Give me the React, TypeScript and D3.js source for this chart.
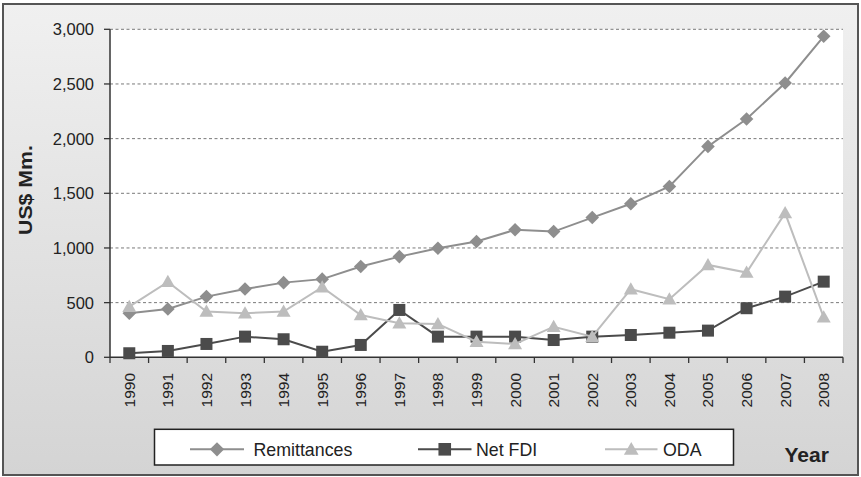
import React from "react";
import * as d3 from "d3";

const years = ["1990","1991","1992","1993","1994","1995","1996","1997","1998","1999","2000","2001","2002","2003","2004","2005","2006","2007","2008"];
const remittances = [403,442,555,625,683,715,830,921,998,1059,1166,1150,1278,1404,1562,1929,2179,2509,2936];
const netFDI = [37,58,122,189,165,51,113,433,189,189,189,158,189,204,225,244,449,555,692];
const oda = [463,690,418,403,418,641,387,311,305,143,122,280,189,623,531,845,775,1319,366];
const yTicks = [0,500,1000,1500,2000,2500,3000];

const W = 861, H = 477;
const FONT = "'Liberation Sans', Arial, Helvetica, sans-serif";

type Shape = "diamond" | "square" | "triangle";
const series: { name: string; values: number[]; color: string; shape: Shape }[] = [
  { name: "Remittances", values: remittances, color: "#8e8e8e", shape: "diamond" },
  { name: "Net FDI", values: netFDI, color: "#4b4b4b", shape: "square" },
  { name: "ODA", values: oda, color: "#bdbdbd", shape: "triangle" },
];

function Marker({ shape, x, y, color, s = 1 }: { shape: Shape; x: number; y: number; color: string; s?: number }) {
  if (shape === "diamond") {
    const r = 6.8 * s;
    return <path d={`M${x},${y - r}L${x + r},${y}L${x},${y + r}L${x - r},${y}Z`} fill={color} />;
  }
  if (shape === "square") {
    const h = 6 * s;
    return <rect x={x - h} y={y - h} width={2 * h} height={2 * h} fill={color} />;
  }
  const hw = 7 * s, ht = 7 * s;
  return <path d={`M${x},${y - ht}L${x + hw},${y + ht * 0.75}L${x - hw},${y + ht * 0.75}Z`} fill={color} />;
}

export default function App() {
  const x = d3.scaleBand<string>().domain(years).range([110, 843]).padding(0);
  const y = d3.scaleLinear().domain([0, 3000]).range([357.3, 29.3]);
  const cx = (yr: string) => (x(yr) as number) + x.bandwidth() / 2;
  const line = d3.line<number>().x((_, i) => cx(years[i])).y((v) => y(v));
  const boundaries = [...years.map((yr) => x(yr) as number), 843];

  const legendItems = [
    { lx1: 190, lx2: 244, tx: 253.5 },
    { lx1: 418, lx2: 471.5, tx: 476 },
    { lx1: 605, lx2: 657.5, tx: 663 },
  ];

  return (
    <svg width={W} height={H} style={{ position: "fixed", left: 0, top: 0, display: "block" }} fontFamily={FONT}>
      <defs>
        <linearGradient id="bg" x1="0" y1="0" x2="0" y2="1">
          <stop offset="0" stopColor="#f0f0f0" />
          <stop offset="1" stopColor="#d4d4d4" />
        </linearGradient>
      </defs>
      <rect x={0} y={0} width={W} height={H} fill="#ffffff" />
      <rect x={3} y={4} width={855} height={471} fill="url(#bg)" stroke="#555" strokeWidth={2} />
      <rect x={110} y={29.3} width={733} height={328} fill="#ffffff" />

      {yTicks.filter((t) => t > 0).map((t) => (
        <line key={"g" + t} x1={110} x2={843} y1={y(t)} y2={y(t)} stroke="#7a7a7a" strokeWidth={1} strokeDasharray="3,2.5" />
      ))}

      {/* y axis */}
      <line x1={110} x2={110} y1={29.3} y2={357.3} stroke="#333" strokeWidth={1.5} />
      {yTicks.map((t) => (
        <g key={"y" + t}>
          <line x1={104} x2={110} y1={y(t)} y2={y(t)} stroke="#333" strokeWidth={1.3} />
          <text x={94} y={y(t)} dy="0.36em" textAnchor="end" fontSize={16.5} fill="#222">
            {d3.format(",")(t)}
          </text>
        </g>
      ))}

      {/* x axis */}
      <line x1={110} x2={843} y1={357.3} y2={357.3} stroke="#333" strokeWidth={1.5} />
      {boundaries.map((b, i) => (
        <line key={"xt" + i} x1={b} x2={b} y1={357.3} y2={363} stroke="#333" strokeWidth={1.3} />
      ))}
      {years.map((yr) => (
        <text key={"xl" + yr} transform={`translate(${cx(yr) + 5.5},${373}) rotate(-90)`} textAnchor="end" fontSize={15.5} fill="#222">
          {yr}
        </text>
      ))}

      <text transform="translate(32,190) rotate(-90)" textAnchor="middle" fontSize={19} fontWeight="bold" fill="#222"
        textLength={90} lengthAdjust="spacingAndGlyphs">
        US$ Mm.
      </text>

      {series.map((s) => (
        <g key={s.name}>
          <path d={line(s.values) as string} fill="none" stroke={s.color} strokeWidth={2} />
          {s.values.map((v, i) => (
            <Marker key={i} shape={s.shape} x={cx(years[i])} y={y(v)} color={s.color} />
          ))}
        </g>
      ))}

      {/* legend */}
      <rect x={154.5} y={429.3} width={579} height={35.7} fill="#ffffff" stroke="#222" strokeWidth={1.5} />
      {series.map((s, i) => {
        const it = legendItems[i];
        return (
          <g key={"lg" + s.name}>
            <line x1={it.lx1} x2={it.lx2} y1={449.3} y2={449.3} stroke={s.color} strokeWidth={2} />
            <Marker shape={s.shape} x={(it.lx1 + it.lx2) / 2} y={449.3} color={s.color} s={1.05} />
            <text x={it.tx} y={449.3} dy="0.36em" fontSize={17.8} fill="#222">
              {s.name}
            </text>
          </g>
        );
      })}
      <text x={784.5} y={462} fontSize={21} fontWeight="bold" fill="#222">
        Year
      </text>
    </svg>
  );
}
